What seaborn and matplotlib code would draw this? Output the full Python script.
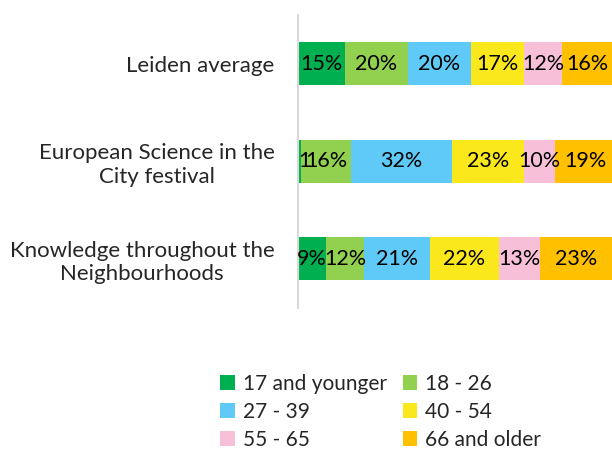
import matplotlib
matplotlib.use("Agg")
import matplotlib.pyplot as plt
import seaborn as sns
import numpy as np
import pandas as pd
from matplotlib.patches import Patch

categories = ["Leiden average",
              "European Science in the\nCity festival",
              "Knowledge throughout the\nNeighbourhoods"]
age_groups = ["17 and younger", "18 - 26", "27 - 39", "40 - 54", "55 - 65", "66 and older"]
pct_17_younger = [15, 1, 9]
pct_18_26 = [20, 16, 12]
pct_27_39 = [20, 32, 21]
pct_40_54 = [17, 23, 22]
pct_55_65 = [12, 10, 13]
pct_66_older = [16, 19, 23]
colors = ["#00B050", "#92D050", "#5FC9F8", "#FAE81C", "#F7C0D8", "#FFC000"]

series = [pct_17_younger, pct_18_26, pct_27_39, pct_40_54, pct_55_65, pct_66_older]

sns.set_style("white")
plt.rcParams["font.family"] = ["Lato", "DejaVu Sans"]

fig = plt.figure(figsize=(6.12, 4.5), dpi=100)
ax = fig.add_axes([0.487, 0.316, 0.513, 0.651])

vals = np.array(series, dtype=float)
cum = vals.cumsum(axis=0)

# draw cumulative totals from the largest down so each layer covers the previous
for i in range(len(series) - 1, -1, -1):
    df = pd.DataFrame({"cat": categories, "val": cum[i]})
    sns.barplot(data=df, x="val", y="cat", orient="h", color=colors[i],
                saturation=1, width=0.44, ax=ax, linewidth=0)

for i in range(len(series)):
    for j in range(len(categories)):
        v = vals[i, j]
        txt = f"{int(v)}%" if v >= 2 else f"{int(v)}"
        x = cum[i, j] - v / 2 if v >= 2 else 0.1
        ha = "center" if v >= 2 else "left"
        ax.text(x, j, txt, ha=ha, va="center", fontsize=15.5, color="black")

ax.set_xlim(0, 100)
ax.set_xlabel("")
ax.set_ylabel("")
ax.set_xticks([])
for s in ["top", "right", "bottom"]:
    ax.spines[s].set_visible(False)
ax.spines["left"].set_color("#D9D9D9")
ax.spines["left"].set_linewidth(1.5)
ax.tick_params(axis="y", length=0, pad=17, labelsize=16)
for lab in ax.get_yticklabels():
    lab.set_multialignment("center")

handles = [Patch(facecolor=c, edgecolor="none") for c in colors]
order = [0, 2, 4, 1, 3, 5]
fig.legend([handles[k] for k in order], [age_groups[k] for k in order],
           ncol=2, loc="center", bbox_to_anchor=(0.622, 0.085), frameon=False,
           fontsize=15, handlelength=0.7, handleheight=0.7, handletextpad=0.4,
           columnspacing=0.75, labelspacing=0.39)

fig.savefig("out.png", dpi=100)
